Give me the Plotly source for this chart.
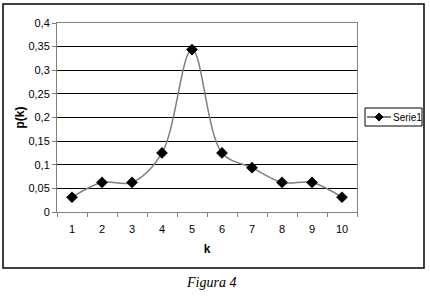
import plotly.graph_objects as go

k_labels = ["1", "2", "3", "4", "5", "6", "7", "8", "9", "10"]
p_values = [0.03125, 0.0625, 0.0625, 0.125, 0.34375, 0.125, 0.09375, 0.0625, 0.0625, 0.03125]
y_ticks = [0, 0.05, 0.1, 0.15, 0.2, 0.25, 0.3, 0.35, 0.4]
series_name = "Serie1"

W, H = 430, 298
L, R, T, B = 57, 357, 23, 212

fig = go.Figure()
fig.add_trace(go.Scatter(
    x=k_labels, y=p_values, name=series_name, mode="lines+markers",
    line=dict(color="#7f7f7f", width=1.5, shape="spline", smoothing=1),
    marker=dict(symbol="diamond", size=9, color="black"),
    showlegend=False,
))

def px2x(px):
    return (px - L) / (R - L)

def py2y(py):
    return (B - py) / (B - T)

fig.update_layout(
    width=W, height=H,
    margin=dict(l=L, r=W - R, t=T, b=H - B, autoexpand=False),
    paper_bgcolor="white", plot_bgcolor="white",
    separators=", ",
    font=dict(family="Liberation Sans, Arial, sans-serif", size=11, color="black"),
    showlegend=False,
    xaxis=dict(type="category", range=[-0.5, 9.5], tickson="boundaries",
               ticks="outside", ticklen=4, tickcolor="#7f7f7f",
               showline=True, linecolor="#7f7f7f", linewidth=1, mirror=True,
               showgrid=False, zeroline=False, ticklabelstandoff=7,
               title=dict(text="<b>k</b>", standoff=10, font=dict(size=12))),
    yaxis=dict(range=[0, 0.4], tickvals=y_ticks,
               ticktext=[("%g" % v).replace(".", ",") for v in y_ticks],
               ticks="outside", ticklen=4, tickcolor="#7f7f7f",
               showline=True, linecolor="#7f7f7f", linewidth=1, mirror=True,
               showgrid=True, gridcolor="black", gridwidth=1, zeroline=False,
               title=dict(text="<b>p(k)</b>", standoff=1, font=dict(size=12))),
)

# outer chart frame
fig.add_shape(type="rect", xref="paper", yref="paper",
              x0=px2x(3), x1=px2x(424), y0=py2y(268), y1=py2y(4),
              line=dict(color="black", width=1.5), layer="below")

# custom compact legend
fig.add_shape(type="rect", xref="paper", yref="paper",
              x0=px2x(365), x1=px2x(422), y0=py2y(126), y1=py2y(108),
              line=dict(color="black", width=1), fillcolor="white")
fig.add_shape(type="line", xref="paper", yref="paper",
              x0=px2x(367), x1=px2x(391), y0=py2y(117), y1=py2y(117),
              line=dict(color="black", width=1))
cx, cy, d = 379, 117, 4
fig.add_shape(type="path", xref="paper", yref="paper",
              path="M {},{} L {},{} L {},{} L {},{} Z".format(
                  px2x(cx), py2y(cy - d), px2x(cx + d), py2y(cy),
                  px2x(cx), py2y(cy + d), px2x(cx - d), py2y(cy)),
              line=dict(color="black", width=1), fillcolor="black")
fig.add_annotation(text=series_name, xref="paper", yref="paper",
                   x=px2x(391), y=py2y(117), xanchor="left", yanchor="middle",
                   showarrow=False, font=dict(size=10, color="black"))

fig.add_annotation(text="<i>Figura 4</i>", xref="paper", yref="paper",
                   x=px2x(211), y=py2y(282), xanchor="center", yanchor="middle",
                   showarrow=False,
                   font=dict(family="Liberation Serif, DejaVu Serif, serif", size=14, color="black"))

fig.write_html("out.html", config={"displayModeBar": False},
               post_script="document.body.style.margin='0';document.body.style.overflow='hidden';")
